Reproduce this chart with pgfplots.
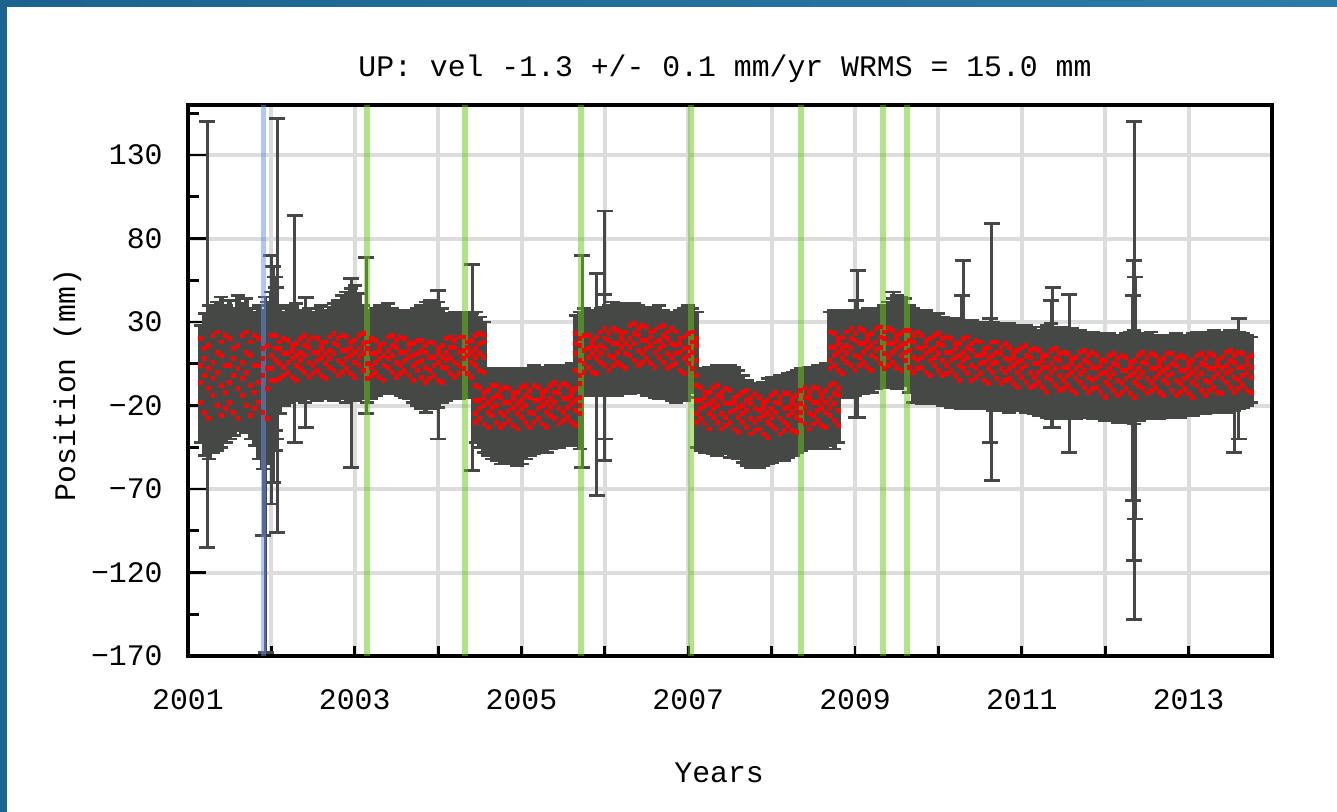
\documentclass[border=0pt]{standalone}
\usepackage{fontspec}
\setmainfont{Liberation Mono}
\usepackage{pgfplots}
\pgfplotsset{compat=1.18}
\usepackage{pgfplotstable}
\definecolor{dgray}{RGB}{70,72,70}
\definecolor{gridgray}{RGB}{220,220,220}
\definecolor{evgreen}{RGB}{100,200,20}
\definecolor{evblue}{RGB}{96,144,230}
\definecolor{frameA}{RGB}{28,100,142}
\definecolor{frameB}{RGB}{42,124,168}
\newcommand{\lblfont}{\fontsize{14.9}{18}\selectfont}

% daily cloud, thinned: x, centre and half range of the error bars, four red positions
\pgfplotstableread{
x c e r1 r2 r3 r4
2001.15 -7 35 -18 4 20 -6
2001.20 -7.5 42.5 8 -24 -2 14
2001.25 -6 46 -10 16 -28 2
2001.30 -5 43 22 -14 6 -4
2001.35 -2.5 44.5 0 -20 12 24
2001.40 0 45 -26 10 -8 18
2001.45 -1 41 4 -12 22 -22
2001.50 1.5 41.5 -18 4 20 -6
2001.55 0 38 8 -24 -2 14
2001.60 5.5 40.5 -10 16 -28 2
2001.65 4 37 22 -14 6 -4
2001.70 4 40 0 -20 12 24
2001.75 -1 39 -26 10 -8 18
2001.80 -4 40 4 -12 22 -22
2001.85 -6 46 -18 4 20 -6
2001.90 -10.5 47.5 8 -24 -2 14
2001.95 -6.5 48.5 -10 16 -28 2
2002.00 1.5 46.5 22 -5 10 2
2002.05 2.5 37.5 7 -5 14 22
2002.10 6.5 31.5 -4 14 5 18
2002.15 8 28 11 3 20 -2
2002.20 11 29 0 11 19 6
2002.25 11 27 13 -3 8 16
2002.30 12 29 4 17 -5 10
2002.35 11 26 20 2 12 7
2002.40 8.5 26.5 10 0 16 22
2002.45 11 27 -3 15 6 19
2002.50 11 25 12 4 21 -1
2002.55 10.5 27.5 1 12 20 7
2002.60 12.5 27.5 14 -2 9 17
2002.65 10.5 26.5 5 18 -4 11
2002.70 12.5 26.5 21 3 13 8
2002.75 12 29 11 1 17 23
2002.80 14 29 -2 16 7 20
2002.85 15 31 13 5 22 0
2002.90 15 33 2 13 21 8
2002.95 17 33 15 -1 10 18
2003.00 17.5 34.5 6 19 -3 12
2003.05 16 31 22 4 14 9
2003.10 12 28 11 1 17 23
2003.15 9 27 -4 14 5 18
2003.20 10.5 26.5 11 3 20 -2
2003.25 12 26 0 11 19 6
2003.30 13.5 26.5 13 -3 8 16
2003.35 13.5 25.5 4 17 -5 10
2003.40 14.5 26.5 21 3 13 8
2003.45 12.5 25.5 10 0 16 22
2003.50 12.5 24.5 -3 15 6 19
2003.55 11 25 12 4 21 -1
2003.60 10 25 1 12 20 7
2003.65 10.5 26.5 14 -2 9 17
2003.70 9 27 4 17 -5 10
2003.75 9 29 19 1 11 6
2003.80 9 31 7 -3 13 19
2003.85 9 33 -6 12 3 16
2003.90 10.5 32.5 9 1 18 -4
2003.95 10.5 30.5 -2 9 17 4
2004.00 10.5 31.5 11 -5 6 14
2004.05 10 28 3 16 -6 9
2004.10 9 26 20 2 12 7
2004.15 9 25 9 -1 15 21
2004.20 10.5 25.5 -3 15 6 19
2004.25 9.5 25.5 12 4 21 -1
2004.30 10 24 2 13 21 8
2004.35 10.5 25.5 15 -1 10 18
2004.40 10.5 24.5 6 19 -3 12
2004.45 12 24 22 4 14 9
2004.50 11.5 21.5 11 1 17 23
2004.55 12.5 17.5 0 18 9 22
2004.45 -21 21 -17 -25 -8 -30
2004.50 -21.5 23.5 -28 -17 -9 -22
2004.55 -23.5 24.5 -15 -31 -20 -12
2004.60 -25.5 24.5 -24 -11 -33 -18
2004.65 -25 27 -8 -26 -16 -21
2004.70 -26.5 26.5 -20 -30 -14 -8
2004.75 -27 28 -33 -15 -24 -11
2004.80 -26 28 -18 -26 -9 -31
2004.85 -26.5 26.5 -29 -18 -10 -23
2004.90 -27 28 -16 -32 -21 -13
2004.95 -27 29 -25 -12 -34 -19
2005.00 -27.5 27.5 -9 -27 -17 -22
2005.05 -25.5 26.5 -20 -30 -14 -8
2005.10 -24 26 -33 -15 -24 -11
2005.15 -22.5 26.5 -17 -25 -8 -30
2005.20 -22.5 25.5 -28 -17 -9 -22
2005.25 -22.5 24.5 -15 -31 -20 -12
2005.30 -22.5 25.5 -24 -11 -33 -18
2005.35 -21 25 -8 -26 -16 -21
2005.40 -20.5 23.5 -18 -28 -12 -6
2005.45 -21.5 23.5 -31 -13 -22 -9
2005.50 -20 24 -16 -24 -7 -29
2005.55 -20 23 -27 -16 -8 -21
2005.60 -18.5 23.5 -14 -30 -19 -11
2005.65 -20 24 -23 -10 -32 -17
2005.70 -21.5 24.5 -7 -25 -15 -20
2005.65 11 23 11 1 17 23
2005.70 13 23 -2 16 7 20
2005.75 13 25 13 5 22 0
2005.80 10.5 24.5 3 14 22 9
2005.85 12 25 16 0 11 19
2005.90 12.5 23.5 8 21 -1 14
2005.95 13 25 24 6 16 11
2006.00 12.5 26.5 14 4 20 26
2006.05 13.5 26.5 1 19 10 23
2006.10 15 27 17 9 26 4
2006.15 13.5 27.5 6 17 25 12
2006.20 14 26 20 4 15 23
2006.25 15 26 11 24 2 17
2006.30 13.5 26.5 28 10 20 15
2006.35 14.5 26.5 17 7 23 29
2006.40 14.5 25.5 4 22 13 26
2006.45 13 25 19 11 28 6
2006.50 12.5 26.5 8 19 27 14
2006.55 12.5 25.5 21 5 16 24
2006.60 12 27 12 25 3 18
2006.65 12 28 27 9 19 14
2006.70 11 26 16 6 22 28
2006.75 10 26 2 20 11 24
2006.80 9 26 17 9 26 4
2006.85 9 27 5 16 24 11
2006.90 10.5 26.5 17 1 12 20
2006.95 10.5 27.5 8 21 -1 14
2007.00 12.5 27.5 23 5 15 10
2007.05 13 25 12 2 18 24
2007.10 14 22 -2 16 7 20
2007.10 -22.5 22.5 -17 -25 -8 -30
2007.15 -22.5 24.5 -28 -17 -9 -22
2007.20 -23.5 24.5 -15 -31 -20 -12
2007.25 -22 25 -25 -12 -34 -19
2007.30 -23.5 25.5 -9 -27 -17 -22
2007.35 -23 27 -20 -30 -14 -8
2007.40 -23 25 -34 -16 -25 -12
2007.45 -23 26 -19 -27 -10 -32
2007.50 -23.5 27.5 -30 -19 -11 -24
2007.55 -23.5 26.5 -18 -34 -23 -15
2007.60 -25.5 26.5 -27 -14 -36 -21
2007.65 -28 26 -12 -30 -20 -25
2007.70 -30.5 25.5 -23 -33 -17 -11
2007.75 -32 25 -37 -19 -28 -15
2007.80 -32 24 -22 -30 -13 -35
2007.85 -32 25 -34 -23 -15 -28
2007.90 -31 25 -21 -37 -26 -18
2007.95 -29.5 25.5 -30 -17 -39 -24
2008.00 -28.5 25.5 -14 -32 -22 -27
2008.05 -28.5 24.5 -24 -34 -18 -12
2008.10 -27 25 -37 -19 -28 -15
2008.15 -28 25 -22 -30 -13 -35
2008.20 -26 25 -32 -21 -13 -26
2008.25 -25 25 -19 -35 -24 -16
2008.30 -23.5 24.5 -27 -14 -36 -21
2008.35 -22.5 24.5 -11 -29 -19 -24
2008.40 -22.5 23.5 -21 -31 -15 -9
2008.45 -21 24 -34 -16 -25 -12
2008.50 -22 24 -18 -26 -9 -31
2008.55 -20 24 -29 -18 -10 -23
2008.60 -21 24 -16 -32 -21 -13
2008.65 -20.5 25.5 -24 -11 -33 -18
2008.70 -20 24 -8 -26 -16 -21
2008.75 -20.5 25.5 -19 -29 -13 -7
2008.80 -19 23 -32 -14 -23 -10
2008.70 12 24 15 7 24 2
2008.75 11.5 25.5 4 15 23 10
2008.80 10.5 25.5 17 1 12 20
2008.85 10.5 24.5 8 21 -1 14
2008.90 12 25 24 6 16 11
2008.95 10.5 25.5 14 4 20 26
2009.00 10.5 24.5 1 19 10 23
2009.05 12.5 24.5 17 9 26 4
2009.10 11.5 24.5 6 17 25 12
2009.15 13.5 24.5 19 3 14 22
2009.20 12.5 24.5 10 23 1 16
2009.25 13 23 26 8 18 13
2009.30 14.5 23.5 15 5 21 27
2009.35 16 24 2 20 11 24
2009.40 16.5 25.5 17 9 26 4
2009.45 18 26 6 17 25 12
2009.50 18 28 19 3 14 22
2009.55 18.5 26.5 10 23 1 16
2009.60 18.5 25.5 25 7 17 12
2009.65 14 26 13 3 19 25
2009.70 10 28 0 18 9 22
2009.75 10 27 15 7 24 2
2009.80 8.5 27.5 3 14 22 9
2009.85 9.5 27.5 16 0 11 19
2009.90 9 26 7 20 -2 13
2009.95 7.5 26.5 22 4 14 9
2010.00 8.5 26.5 11 1 17 23
2010.05 6.5 26.5 -2 16 7 20
2010.10 6.5 25.5 12 4 21 -1
2010.15 5 26 1 12 20 7
2010.20 6 26 14 -2 9 17
2010.25 5.5 24.5 4 17 -5 10
2010.30 5 26 20 2 12 7
2010.35 5 25 9 -1 15 21
2010.40 4.5 26.5 -5 13 4 17
2010.45 4 25 10 2 19 -3
2010.50 5 25 -1 10 18 5
2010.55 3 25 11 -5 6 14
2010.60 4 25 2 15 -7 8
2010.65 3.5 26.5 18 0 10 5
2010.70 3 25 6 -4 12 18
2010.75 3 26 -7 11 2 15
2010.80 3 25 8 0 17 -5
2010.85 2.5 26.5 -4 7 15 2
2010.90 2 25 9 -7 4 12
2010.95 3 25 0 13 -9 6
2011.00 2 25 15 -3 7 2
2011.05 2 26 4 -6 10 16
2011.10 1.5 24.5 -9 9 0 13
2011.15 1 26 5 -3 14 -8
2011.20 -0.5 25.5 -6 5 13 0
2011.25 1 26 7 -9 2 10
2011.30 0.5 27.5 -3 10 -12 3
2011.35 0.5 28.5 13 -5 5 0
2011.40 0 27 2 -8 8 14
2011.45 -1 27 -11 7 -2 11
2011.50 0 27 3 -5 12 -10
2011.55 -1.5 26.5 -8 3 11 -2
2011.60 -0.5 26.5 5 -11 0 8
2011.65 -2 26 -4 9 -13 2
2011.70 -1 26 12 -6 4 -1
2011.75 -1 25 1 -9 7 13
2011.80 -2 25 -12 6 -3 10
2011.85 -2 26 3 -5 12 -10
2011.90 -2.5 24.5 -9 2 10 -3
2011.95 -2.5 25.5 4 -12 -1 7
2012.00 -3.5 25.5 -6 7 -15 0
2012.05 -2.5 25.5 10 -8 2 -3
2012.10 -3.5 25.5 -1 -11 5 11
2012.15 -4.5 25.5 -14 4 -5 8
2012.20 -3.5 25.5 1 -7 10 -12
2012.25 -2.5 25.5 -10 1 9 -4
2012.30 -3 27 3 -13 -2 6
2012.35 -3 28 -6 7 -15 0
2012.40 -3 26 10 -8 2 -3
2012.45 -3 25 0 -10 6 12
2012.50 -2 25 -13 5 -4 9
2012.55 -2 26 2 -6 11 -11
2012.60 -2.5 24.5 -9 2 10 -3
2012.65 -3.5 24.5 4 -12 -1 7
2012.70 -2.5 24.5 -5 8 -14 1
2012.75 -2.5 23.5 11 -7 3 -2
2012.80 -2.5 24.5 -1 -11 5 11
2012.85 -1.5 24.5 -14 4 -5 8
2012.90 -2.5 24.5 1 -7 10 -12
2012.95 -2.5 23.5 -10 1 9 -4
2013.00 -1.5 23.5 3 -13 -2 6
2013.05 -1.5 24.5 -6 7 -15 0
2013.10 -0.5 24.5 10 -8 2 -3
2013.15 -0.5 23.5 -1 -11 5 11
2013.20 -0.5 24.5 -14 4 -5 8
2013.25 -0.5 23.5 2 -6 11 -11
2013.30 1 24 -9 2 10 -3
2013.35 0 24 4 -12 -1 7
2013.40 0 23 -4 9 -13 2
2013.45 0 24 12 -6 4 -1
2013.50 1.5 23.5 1 -9 7 13
2013.55 0 23 -12 6 -3 10
2013.60 1 23 3 -5 12 -10
2013.65 1 22 -8 3 11 -2
2013.70 1 21 5 -11 0 8
2013.75 1.5 19.5 -3 10 -12 3
}\cloud

% single days with large error bars
\pgfplotstableread{
x c e
2001.23 22.5 127.5
2001.90 -39 59
2001.93 -61.5 106.5
2002.00 -4.5 74.5
2002.02 -1.25 64.75
2002.04 5 52
2002.06 5.3 45.3
2002.07 28 124
2002.28 26 68
2002.41 5.75 38.75
2002.96 -0.5 56.5
2003.14 21.75 46.75
2004.00 4.5 44.5
2004.41 2.8 61.8
2005.73 6.5 63.5
2005.90 -7.5 66.5
2005.99 -3.2 49.8
2006.00 28.25 68.25
2009.01 8 35
2009.03 17 44
2009.46 21.5 26.5
2010.28 12 34
2010.30 24 43
2010.62 -5 37
2010.64 12 77
2011.35 5 38
2011.37 8.8 41.8
2011.57 -0.7 47.3
2012.33 -15.5 61.5
2012.34 -23 90
2012.35 1 149
2012.36 -15.5 72.5
2013.55 -14 34
2013.60 -4 36
}\outliers

\begin{document}
\begin{tikzpicture}
\path[use as bounding box] (-94pt,-78pt) rectangle (574.5pt,328pt);
\fill[white] (-94pt,-78pt) rectangle (574.5pt,328pt);
\fill[frameA] (-94pt,-78pt) rectangle (-90.5pt,328pt);
\shade[left color=frameA, right color=frameB] (-94pt,324.5pt) rectangle (574.5pt,328pt);
\begin{axis}[
    at={(0pt,0pt)}, anchor=south west,
    scale only axis, width=542pt, height=275.5pt,
    xmin=2001, xmax=2014, ymin=-170, ymax=160,
    xtick={2001,...,2014},
    xticklabels={2001,,2003,,2005,,2007,,2009,,2011,,2013,},
    ytick={-170,-120,...,130},
    yticklabels={−170,−120,−70,−20,30,80,130},
    minor ytick={-145,-95,...,155},
    extra y ticks={-170,-120,...,130},
    extra y tick labels={},
    extra tick style={major tick length=9pt, grid=none},
    xtick pos=bottom, ytick pos=left, tick align=inside,
    major tick length=5pt, minor tick length=5.5pt,
    tick style={line width=1.4pt, black},
    xmajorgrids, ymajorgrids,
    grid style={line width=2pt, gridgray},
    axis line style={line width=1.8pt},
    ticklabel style={font=\lblfont},
    xticklabel style={anchor=base, inner sep=0pt, yshift=-27pt},
    yticklabel style={anchor=east, inner sep=0pt, xshift=-12.5pt},
    title={UP: vel -1.3 +/- 0.1 mm/yr WRMS = 15.0 mm},
    title style={font=\lblfont, at={(0.4954,1)}, anchor=base, inner sep=0pt, yshift=8pt},
    xlabel={Years},
    xlabel style={font=\lblfont, at={(axis description cs:0.49,-0.2123)}, anchor=center, inner sep=0pt},
    ylabel={Position (mm)},
    ylabel style={font=\lblfont, at={(axis description cs:-0.1112,0.4918)}, anchor=center, inner sep=0pt},
]
% grey error bars of the daily solutions
\addplot[draw=none, mark=none,
    error bars/.cd, y dir=both, y explicit,
    error bar style={draw=dgray, line width=2.7pt},
    error mark options={draw=dgray, rotate=90, line width=1.4pt, mark size=3.5pt}]
    table[x=x, y=c, y error=e] {\cloud};
\addplot[draw=none, mark=none,
    error bars/.cd, y dir=both, y explicit,
    error bar style={draw=dgray, line width=1.5pt},
    error mark options={draw=dgray, rotate=90, line width=1.4pt, mark size=4pt}]
    table[x=x, y=c, y error=e] {\outliers};
% red daily positions
\pgfplotsset{reddot/.style={only marks, mark=square*, mark size=0.95pt, mark options={draw=red, fill=red, line width=0pt}}}
\addplot[reddot] table[x=x, y=r1] {\cloud};
\addplot[reddot] table[x=x, y=r2] {\cloud};
\addplot[reddot] table[x=x, y=r3] {\cloud};
\addplot[reddot] table[x=x, y=r4] {\cloud};
% equipment changes and earthquake
\addplot[evblue, draw opacity=0.5, line width=2.6pt] coordinates {(2001.905,-170) (2001.905,160)};
\addplot[evgreen, draw opacity=0.5, line width=3pt] coordinates {(2003.147,-170) (2003.147,160)};
\addplot[evgreen, draw opacity=0.5, line width=3pt] coordinates {(2004.32,-170) (2004.32,160)};
\addplot[evgreen, draw opacity=0.5, line width=3pt] coordinates {(2005.713,-170) (2005.713,160)};
\addplot[evgreen, draw opacity=0.5, line width=3pt] coordinates {(2007.027,-170) (2007.027,160)};
\addplot[evgreen, draw opacity=0.5, line width=3pt] coordinates {(2008.35,-170) (2008.35,160)};
\addplot[evgreen, draw opacity=0.5, line width=3pt] coordinates {(2009.335,-170) (2009.335,160)};
\addplot[evgreen, draw opacity=0.5, line width=3pt] coordinates {(2009.62,-170) (2009.62,160)};
\end{axis}
\end{tikzpicture}
\end{document}
